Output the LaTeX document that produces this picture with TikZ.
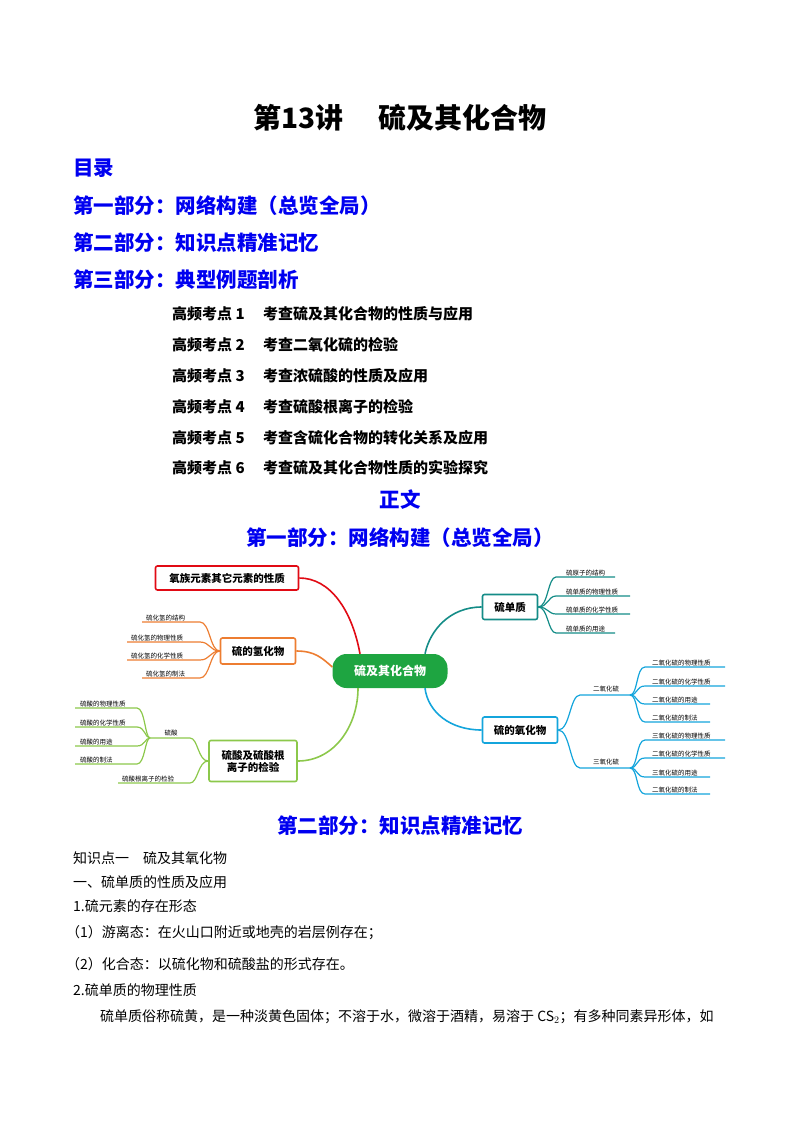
\documentclass[tikz,border=0pt]{standalone}
\usepackage{fontspec}
\setmainfont{Noto Sans CJK SC}
\definecolor{hblue}{RGB}{0,0,240}
\definecolor{cred}{RGB}{225,10,20}
\definecolor{corg}{RGB}{237,125,49}
\definecolor{clg}{RGB}{140,200,75}
\definecolor{cteal}{RGB}{20,140,135}
\definecolor{cblue}{RGB}{20,165,220}
\definecolor{cgreen}{RGB}{30,165,65}
\begin{document}
\begin{tikzpicture}[x=1pt,y=-1pt,
  head/.style={text=hblue,font=\fontsize{20.5}{20.5}\selectfont\bfseries,inner sep=0},
  kd/.style={anchor=west,font=\fontsize{15}{15}\selectfont\bfseries,inner sep=0},
  body/.style={anchor=west,font=\fontsize{14}{14}\selectfont,inner sep=0},
  box/.style={draw=#1,line width=1.6pt,rounded corners=2pt,fill=white,font=\fontsize{10.5}{12}\selectfont\bfseries,align=center,inner sep=0},
  leaf/.style={font=\fontsize{6.5}{6.5}\selectfont,inner sep=0,anchor=south west},
  br/.style={draw=#1,line width=1.2pt},
  main/.style={draw=#1,line width=1.6pt},
]
\useasboundingbox (0,0) rectangle (800,1132);
\node[font=\fontsize{28}{28}\selectfont\bfseries,inner sep=0] (title) at (400,118) {第13讲\quad\ 硫及其化合物};
\node[head,anchor=west] (ml) at (73,168) {目录};
\node[head,anchor=west] (p1) at (73,206) {第一部分：网络构建（总览全局）};
\node[head,anchor=west] (p2) at (73,243) {第二部分：知识点精准记忆};
\node[head,anchor=west] (p3) at (73,280) {第三部分：典型例题剖析};
\node[kd] (k1) at (172,314) {高频考点 1\quad\ 考查硫及其化合物的性质与应用};
\node[kd] (k2) at (172,345) {高频考点 2\quad\ 考查二氧化硫的检验};
\node[kd] (k3) at (172,376) {高频考点 3\quad\ 考查浓硫酸的性质及应用};
\node[kd] (k4) at (172,407) {高频考点 4\quad\ 考查硫酸根离子的检验};
\node[kd] (k5) at (172,438) {高频考点 5\quad\ 考查含硫化合物的转化关系及应用};
\node[kd] (k6) at (172,468) {高频考点 6\quad\ 考查硫及其化合物性质的实验探究};
\node[head] (zw) at (400,500) {正文};
\node[head] (p1b) at (400,538) {第一部分：网络构建（总览全局）};
\node[head] (p2b) at (400,826) {第二部分：知识点精准记忆};
\node[body] (b1) at (73,858) {知识点一\quad 硫及其氧化物};
\node[body] (b2) at (73,882) {一、硫单质的性质及应用};
\node[body] (b3) at (73,906) {1.硫元素的存在形态};
\node[body] (b4) at (66,933) {（1）游离态：在火山口附近或地壳的岩层例存在；};
\node[body] (b5) at (66,964) {（2）化合态：以硫化物和硫酸盐的形式存在。};
\node[body] (b6) at (73,990) {2.硫单质的物理性质};
\node[body] (b7) at (100,1017) {硫单质俗称硫黄，是一种淡黄色固体；不溶于水，微溶于酒精，易溶于 CS$_2$；有多种同素异形体，如};

% mind map
\node[fill=cgreen,text=white,rounded corners=14pt,minimum width=115,minimum height=34,font=\fontsize{12}{12}\selectfont\bfseries] (c) at (390,671) {硫及其化合物};
\node[box=cred,minimum width=143,minimum height=24] (r) at (227,578) {氧族元素其它元素的性质};
\node[box=corg,minimum width=75,minimum height=26] (o) at (258,651) {硫的氢化物};
\node[box=clg,minimum width=88,minimum height=41] (g) at (253,761) {硫酸及硫酸根\\离子的检验};
\node[box=cteal,minimum width=55,minimum height=25] (t) at (510,607) {硫单质};
\node[box=cblue,minimum width=75,minimum height=26] (b) at (520,730) {硫的氧化物};
\draw[main=cred] (r.east) .. controls (330,578) and (352,610) .. ([xshift=-30]c.north);
\draw[main=corg] (o.east) .. controls (315,651) and (322,658) .. ([yshift=4]c.west);
\draw[main=clg] (g.east) .. controls (335,761) and (358,725) .. ([xshift=-32]c.south);
\draw[main=cteal] (t.west) .. controls (450,607) and (430,630) .. ([xshift=35]c.north);
\draw[main=cblue] (b.west) .. controls (450,730) and (428,712) .. ([xshift=35]c.south);
% orange leaves
\coordinate (ob) at (o.west);
\foreach \y/\s/\t [count=\i] in {622/142/硫化氢的结构,642/127/硫化氢的物理性质,660/127/硫化氢的化学性质,678/142/硫化氢的制法}{
  \node[leaf] (ol\i) at (\s+4,\y-1) {\t};
  \draw[br=corg] (ob) .. controls (210,651) and (210,\y) .. (200,\y) -- (\s,\y);
}
% green
\coordinate (gb) at (g.west);
\node[leaf,anchor=south] (h2) at (171,736) {硫酸};
\draw[br=clg] (gb) .. controls (198,761) and (198,738) .. (190,738) -- (150,738);
\coordinate (hb) at (150,738);
\foreach \y/\t [count=\i] in {708/硫酸的物理性质,727/硫酸的化学性质,746/硫酸的用途,764/硫酸的制法}{
  \node[leaf] (gl\i) at (80,\y-1) {\t};
  \draw[br=clg] (hb) .. controls (145,738) and (145,\y) .. (137,\y) -- (75,\y);
}
\node[leaf] (g5) at (122,782) {硫酸根离子的检验};
\draw[br=clg] (gb) .. controls (198,761) and (198,783) .. (190,783) -- (118,783);
% teal
\coordinate (tb) at (t.east);
\foreach \y/\e/\t [count=\i] in {577/615/硫原子的结构,596/630/硫单质的物理性质,614/630/硫单质的化学性质,633/615/硫单质的用途}{
  \node[leaf] (tl\i) at (566,\y-1) {\t};
  \draw[br=cteal] (tb) .. controls (548,607) and (548,\y) .. (556,\y) -- (\e,\y);
}
% blue
\coordinate (bb) at (b.east);
\node[leaf,anchor=south] (so2) at (606,692) {二氧化硫};
\node[leaf,anchor=south] (so3) at (606,765) {三氧化硫};
\draw[br=cblue] (bb) .. controls (570,730) and (570,695) .. (580,695) -- (630,695);
\draw[br=cblue] (bb) .. controls (570,730) and (570,768) .. (580,768) -- (630,768);
\coordinate (s2) at (630,695);
\coordinate (s3) at (630,768);
\foreach \y/\e/\t [count=\i] in {667/725/二氧化硫的物理性质,686/725/二氧化硫的化学性质,704/710/二氧化硫的用途,722/710/二氧化硫的制法}{
  \node[leaf] (sa\i) at (652,\y-1) {\t};
  \draw[br=cblue] (s2) .. controls (638,695) and (636,\y) .. (645,\y) -- (\e,\y);
}
\foreach \y/\e/\t [count=\i] in {740/725/三氧化硫的物理性质,758/725/二氧化硫的化学性质,777/710/三氧化硫的用途,794/710/二氧化硫的制法}{
  \node[leaf] (sb\i) at (652,\y-1) {\t};
  \draw[br=cblue] (s3) .. controls (638,768) and (636,\y) .. (645,\y) -- (\e,\y);
}
\end{tikzpicture}
\end{document}
